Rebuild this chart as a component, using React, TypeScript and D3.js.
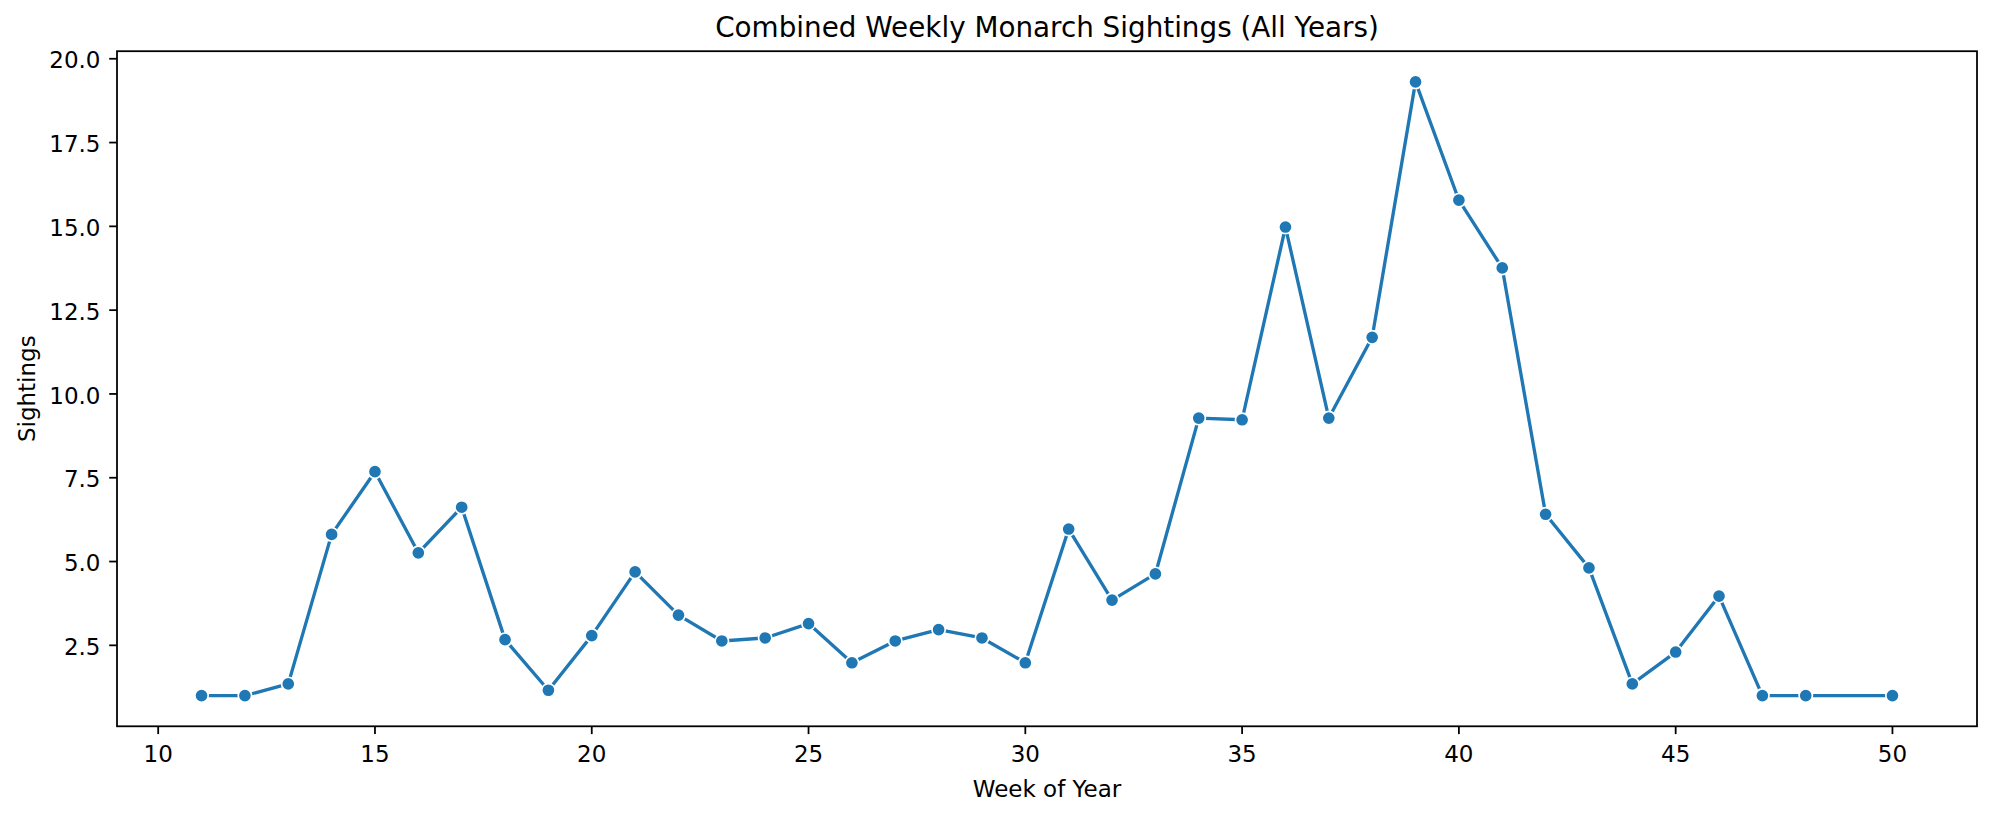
import React from "react";
import * as d3 from "d3";

const weeks = [11, 12, 13, 14, 15, 16, 17, 18, 19, 20, 21, 22, 23, 24, 25, 26, 27, 28, 29, 30, 31, 32, 33, 34, 35, 36, 37, 38, 39, 40, 41, 42, 43, 44, 45, 46, 47, 48, 50];
const sightings = [1.0, 1.0, 1.35, 5.81, 7.68, 5.26, 6.62, 2.67, 1.16, 2.79, 4.69, 3.4, 2.63, 2.72, 3.15, 1.98, 2.63, 2.97, 2.72, 1.98, 5.97, 3.85, 4.63, 9.28, 9.23, 14.98, 9.28, 11.69, 19.31, 15.78, 13.76, 6.41, 4.81, 1.35, 2.3, 3.97, 1.0, 1.0, 1.0];
const xTicks = [10, 15, 20, 25, 30, 35, 40, 45, 50];
const yTicks = [2.5, 5.0, 7.5, 10.0, 12.5, 15.0, 17.5, 20.0];

const title = "Combined Weekly Monarch Sightings (All Years)";
const xLabel = "Week of Year";
const yLabel = "Sightings";

const W = 2000;
const H = 816;
const left = 117;
const right = 1977;
const top = 51.2;
const bottom = 726.3;
const color = "#1f77b4";
const font = "DejaVu Sans, sans-serif";

export default function App() {
  const xMin = d3.min(weeks)!;
  const xMax = d3.max(weeks)!;
  const xm = (xMax - xMin) * 0.05;
  const yMin = d3.min(sightings)!;
  const yMax = d3.max(sightings)!;
  const ym = (yMax - yMin) * 0.05;

  const x = d3.scaleLinear().domain([xMin - xm, xMax + xm]).range([left, right]);
  const y = d3.scaleLinear().domain([yMin - ym, yMax + ym]).range([bottom, top]);

  const pts: [number, number][] = weeks.map((w, i) => [x(w), y(sightings[i])]);
  const line = d3.line()(pts) || "";

  const tickLen = 7.8;
  const tickW = 1.78;
  const fs = 23;

  return (
    <svg
      width={W}
      height={H}
      viewBox={`0 0 ${W} ${H}`}
      style={{ position: "absolute", left: 0, top: 0, background: "#fff" }}
      fontFamily={font}
    >
      <rect x={0} y={0} width={W} height={H} fill="#fff" />
      {xTicks.map((t) => (
        <g key={`xt${t}`}>
          <line x1={x(t)} x2={x(t)} y1={bottom} y2={bottom + tickLen} stroke="#000" strokeWidth={tickW} />
          <text x={x(t)} y={761.5} fontSize={fs} textAnchor="middle" fill="#000">
            {String(t)}
          </text>
        </g>
      ))}
      {yTicks.map((t) => (
        <g key={`yt${t}`}>
          <line x1={left - tickLen} x2={left} y1={y(t)} y2={y(t)} stroke="#000" strokeWidth={tickW} />
          <text x={100.5} y={y(t) + 9.7} fontSize={fs} textAnchor="end" fill="#000">
            {t.toFixed(1)}
          </text>
        </g>
      ))}
      <path d={line} fill="none" stroke={color} strokeWidth={3.33} strokeLinejoin="round" strokeLinecap="butt" />
      {pts.map((p, i) => (
        <circle key={`m${i}`} cx={p[0]} cy={p[1]} r={6.67} fill={color} stroke="#fff" strokeWidth={1.67} />
      ))}
      <rect x={left} y={top} width={right - left} height={bottom - top} fill="none" stroke="#000" strokeWidth={1.78} />
      <text x={(left + right) / 2} y={37} fontSize={27.8} textAnchor="middle" fill="#000">
        {title}
      </text>
      <text x={(left + right) / 2} y={797} fontSize={fs} textAnchor="middle" fill="#000">
        {xLabel}
      </text>
      <text
        transform={`translate(35, ${(top + bottom) / 2}) rotate(-90)`}
        fontSize={fs}
        textAnchor="middle"
        fill="#000"
      >
        {yLabel}
      </text>
    </svg>
  );
}
